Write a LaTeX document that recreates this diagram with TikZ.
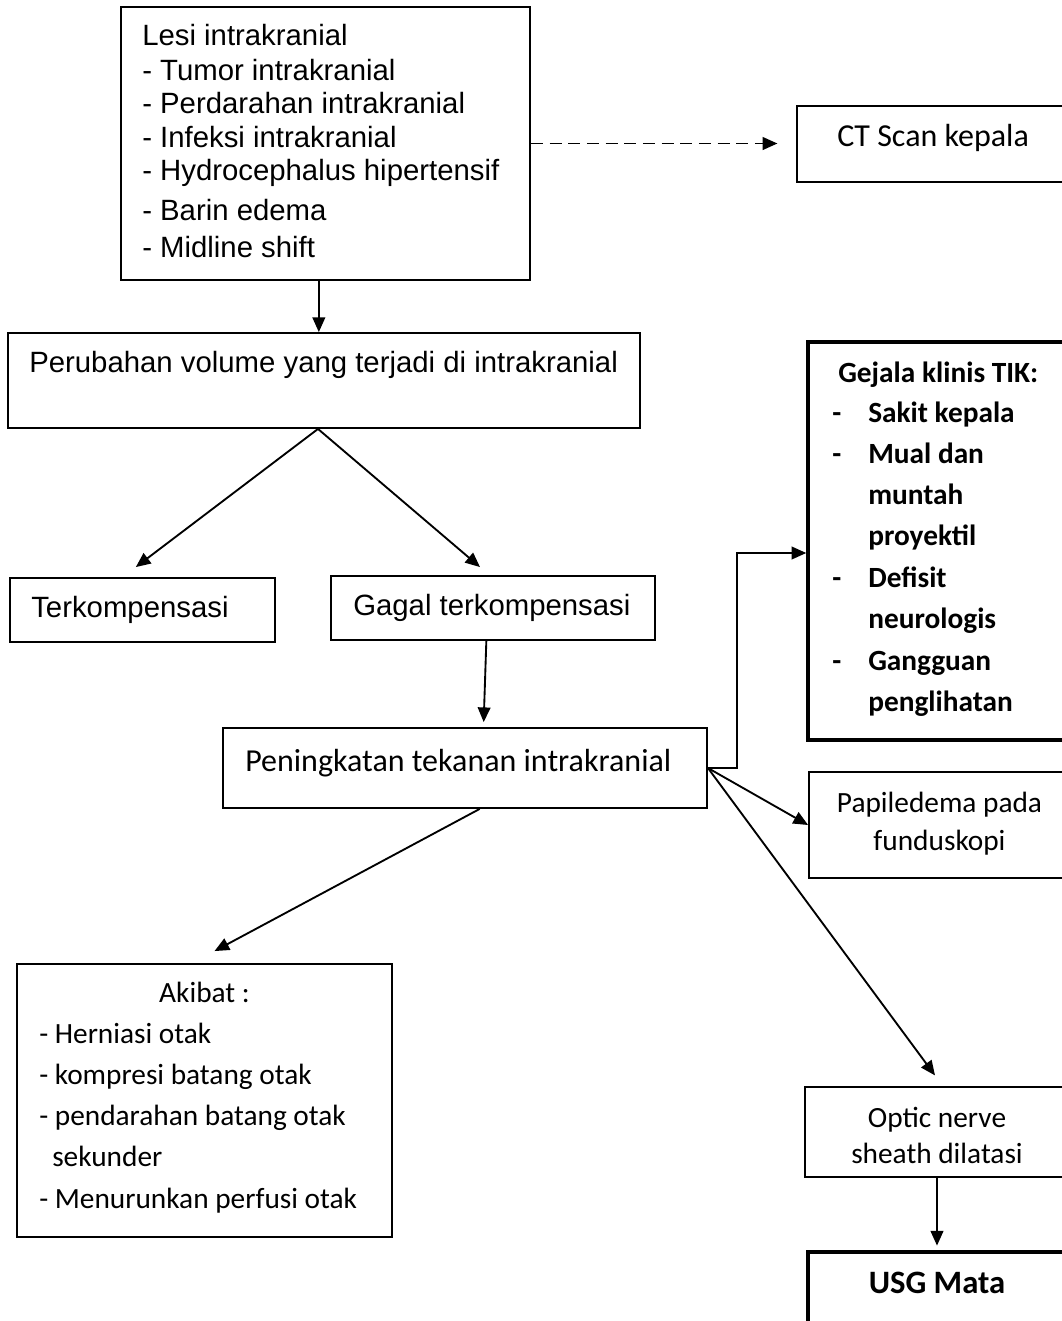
\documentclass[tikz,border=0pt]{standalone}
\usepackage{fontspec}
\setmainfont{Liberation Sans}
\newfontfamily\calib{Carlito}
\usetikzlibrary{arrows.meta,fit,calc}
\begin{document}
\begin{tikzpicture}[x=0.75pt,y=-0.75pt,
  box/.style={draw, line width=1.4pt, inner sep=0pt},
  tbox/.style={box, line width=2.6pt},
  arr/.style={line width=1.4pt, -{Triangle[length=11pt,width=9.5pt]}},
  ar/.style={font=\fontsize{22}{26}\selectfont, anchor=base west, inner sep=0pt},
  ca/.style={font=\calib\fontsize{22}{26}\selectfont, anchor=base west, inner sep=0pt},
  cl/.style={ca, font=\calib\fontsize{24}{28}\selectfont},
  cc/.style={ca, anchor=base},
  cb/.style={font=\calib\bfseries\fontsize{22}{26}\selectfont, anchor=base west, inner sep=0pt},
  cbc/.style={cb, font=\calib\bfseries\fontsize{24.5}{28}\selectfont, anchor=base}]
\useasboundingbox (0,0) rectangle (1062,1321);
\fill[white] (0,0) rectangle (1062,1321);

% boxes
\node[box, fit={(121,7) (530,280)}] (lesi) {};
\node[box, fit={(797,106) (1075,182)}] (ct) {};
\node[box, fit={(8,333) (640,428)}] (perub) {};
\node[box, fit={(10,578) (275,642)}] (terk) {};
\node[box, fit={(331,576) (655,640)}] (gagal) {};
\node[box, fit={(223,728) (707,808)}] (pen) {};
\node[tbox, fit={(808,342) (1075,740)}] (gejala) {};
\node[box, fit={(809,772) (1070,878)}] (papil) {};
\node[box, fit={(805,1087) (1069,1177)}] (optic) {};
\node[tbox, fit={(808,1252) (1066,1345)}] (usg) {};
\node[box, fit={(17,964) (392,1237)}] (akibat) {};

% texts
\node[ar] (l1) at (142,45) {Lesi intrakranial};
\node[ar] (l2) at (142,80) {- Tumor intrakranial};
\node[ar] (l3) at (142,113) {- Perdarahan intrakranial};
\node[ar] (l4) at (142,147) {- Infeksi intrakranial};
\node[ar] (l5) at (142,180) {- Hydrocephalus hipertensif};
\node[ar] (l6) at (142,220) {- Barin edema};
\node[ar] (l7) at (142,257) {- Midline shift};
\node[cl] (cttxt) at (837,146) {CT Scan kepala};
\node[ar] (ptxt) at (29,372) {Perubahan volume yang terjadi di intrakranial};
\node[ar] (ttxt) at (31,617) {Terkompensasi};
\node[ar] (gtxt) at (353,615) {Gagal terkompensasi};
\node[cl] (pentxt) at (245,771) {Peningkatan tekanan intrakranial};

\node[cb] (g0) at (838,382) {Gejala klinis TIK:};
\node[cb] (gd1) at (832,422) {-};
\node[cb] (gd2) at (832,463) {-};
\node[cb] (gd3) at (832,587) {-};
\node[cb] (gd4) at (832,670) {-};
\node[cb] (g1) at (868,422) {Sakit kepala};
\node[cb] (g2) at (868,463) {Mual dan};
\node[cb] (g3) at (868,504) {muntah};
\node[cb] (g4) at (868,545) {proyektil};
\node[cb] (g5) at (868,587) {Defisit};
\node[cb] (g6) at (868,628) {neurologis};
\node[cb] (g7) at (868,670) {Gangguan};
\node[cb] (g8) at (868,711) {penglihatan};

\node[cc] (pa1) at (939.5,812) {Papiledema pada};
\node[cc] (pa2) at (939.5,850) {funduskopi};
\node[cc] (op1) at (937,1127) {Optic nerve};
\node[cc] (op2) at (937,1163) {sheath dilatasi};
\node[cbc] (usgtxt) at (937,1293) {USG Mata};

\node[cc] (a0) at (204.5,1002) {Akibat :};
\node[ca] (a1) at (39,1043) {- Herniasi otak};
\node[ca] (a2) at (39,1084) {- kompresi batang otak};
\node[ca] (a3) at (39,1125) {- pendarahan batang otak};
\node[ca] (a4) at (52,1166) {sekunder};
\node[ca] (a5) at (39,1208) {- Menurunkan perfusi otak};

% connectors
\draw[arr] ([xshift=-5pt]lesi.south) -- ([xshift=-5pt]lesi.south |- perub.north);
\draw[arr, dash pattern=on 9pt off 5pt, shorten >=14pt] (lesi.east) -- (lesi.east -| ct.west);
\draw[arr] ([xshift=-4.5pt]perub.south) -- ([xshift=-5pt,yshift=7.5pt]terk.north);
\draw[arr] ([xshift=-4.5pt]perub.south) -- ([xshift=-9.75pt,yshift=6pt]gagal.north);
\draw[arr] ([xshift=-5pt]gagal.south) -- ([xshift=14pt,yshift=3.75pt]pen.north);
\draw[arr] (pen.east) -- ++(29,0) |- ([yshift=-9pt]gejala.west);
\draw[arr] (pen.east) -- (papil.west);
\draw[arr] (pen.east) -- ([xshift=-1.5pt,yshift=8pt]optic.north);
\draw[arr, shorten >=3.5pt] (optic.south) -- (usg.north);
\draw[arr] ([xshift=11pt]pen.south) -- ([xshift=7.5pt,yshift=9pt]akibat.north);
\end{tikzpicture}
\end{document}
